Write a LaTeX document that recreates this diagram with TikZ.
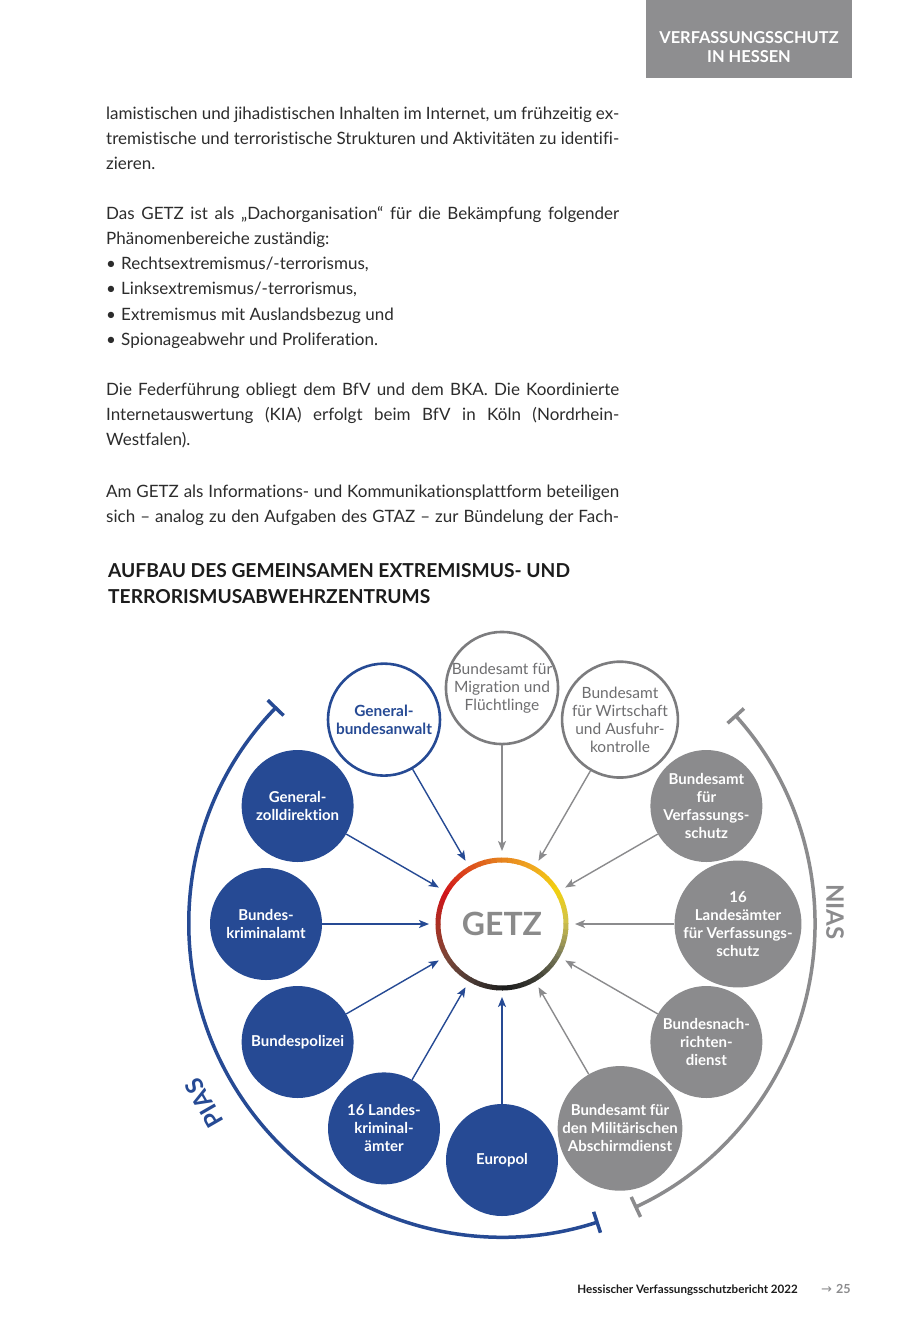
\documentclass[tikz,border=0pt]{standalone}
\usepackage{fontspec}
\setmainfont{Lato}[Ligatures=NoCommon]
\newfontfamily\dejavu{DejaVu Sans}
\usetikzlibrary{arrows.meta,calc}
\definecolor{pblue}{HTML}{264A94}
\definecolor{ngray}{HTML}{8B8B8D}
\definecolor{lgray}{HTML}{7C7C7E}
\definecolor{ltext}{HTML}{6E6E70}
\definecolor{bodytxt}{HTML}{2C2C2C}
\definecolor{headtxt}{HTML}{1C1C1C}
\definecolor{hbox}{HTML}{8E8E90}
\definecolor{getzgray}{HTML}{8A8A8A}
\definecolor{g0}{HTML}{D2C34A}
\definecolor{g30}{HTML}{F2D010}
\definecolor{g60}{HTML}{F0A820}
\definecolor{g90}{HTML}{E5801F}
\definecolor{g120}{HTML}{DC4A1C}
\definecolor{g150}{HTML}{D0141A}
\definecolor{g180}{HTML}{A83224}
\definecolor{g210}{HTML}{7A4638}
\definecolor{g240}{HTML}{4A3A34}
\definecolor{g270}{HTML}{1C1C1C}
\definecolor{g300}{HTML}{3C3C34}
\definecolor{g330}{HTML}{7E7E5A}
\tikzset{
  body/.style={anchor=base west, inner sep=0pt, font=\fontsize{17}{20}\selectfont, text=bodytxt},
  heading/.style={anchor=base west, inner sep=0pt, font=\bfseries\fontsize{19.2}{24}\selectfont, text=headtxt},
  circbase/.style={circle, minimum size=112pt, inner sep=0pt, align=center, font=\bfseries\fontsize{15}{18}\selectfont},
  bluefill/.style={circbase, fill=pblue, text=white},
  grayfill/.style={circbase, fill=ngray, text=white},
  blueopen/.style={circbase, draw=pblue, line width=2.6pt, fill=white, text=pblue, font=\bfseries\fontsize{15.4}{18}\selectfont},
  grayopen/.style={circbase, draw=lgray, line width=2.6pt, fill=white, text=ltext, font=\fontsize{15.5}{18}\selectfont},
  barrow/.style={draw=pblue, line width=1.4pt, -{Stealth[length=10pt,width=8pt,inset=2.5pt]}},
  garrow/.style={draw=ngray, line width=1.4pt, -{Stealth[length=10pt,width=8pt,inset=2.5pt]}},
  arclabel/.style={font=\bfseries\fontsize{24}{24}\selectfont, inner sep=0pt},
}
\begin{document}
\begin{tikzpicture}[x=1pt,y=1pt]
\useasboundingbox (0,0) rectangle (900,-1323);
\fill[white] (0,0) rectangle (900,-1323);

% header box
\fill[hbox] (646,0) rectangle (852,-78);
\node[align=center, text=white, font=\bfseries\fontsize{16.4}{19}\selectfont, inner sep=0pt] (hdr) at (749,-47) {VERFASSUNGSSCHUTZ\\IN HESSEN};

% body text
\node[body] (l1) at (106,-119) {\makebox[513pt][s]{lamistischen und jihadistischen Inhalten im Internet, um frühzeitig ex-}};
\node[body] (l2) at (106,-144) {\makebox[513pt][s]{tremistische und terroristische Strukturen und Aktivitäten zu identifi-}};
\node[body] (l3) at (106,-169) {zieren.};
\node[body] (l4) at (106,-219) {\makebox[513pt][s]{Das GETZ ist als „Dachorganisation“ für die Bekämpfung folgender}};
\node[body] (l5) at (106,-244) {Phänomenbereiche zuständig:};
\node[body] (l6) at (106,-269) {\makebox[15pt][l]{•}Rechtsextremismus/-terrorismus,};
\node[body] (l7) at (106,-294) {\makebox[15pt][l]{•}Linksextremismus/-terrorismus,};
\node[body] (l8) at (106,-320) {\makebox[15pt][l]{•}Extremismus mit Auslandsbezug und};
\node[body] (l9) at (106,-345) {\makebox[15pt][l]{•}Spionageabwehr und Proliferation.};
\node[body] (l10) at (106,-395) {\makebox[513pt][s]{Die Federführung obliegt dem BfV und dem BKA. Die Koordinierte}};
\node[body] (l11) at (106,-420) {\makebox[513pt][s]{Internetauswertung (KIA) erfolgt beim BfV in Köln (Nordrhein-}};
\node[body] (l12) at (106,-445) {Westfalen).};
\node[body] (l13) at (106,-497) {\makebox[513pt][s]{Am GETZ als Informations- und Kommunikationsplattform beteiligen}};
\node[body] (l14) at (106,-522) {\makebox[513pt][s]{sich – analog zu den Aufgaben des GTAZ – zur Bündelung der Fach-}};

% heading
\node[heading] (h1) at (108,-577) {AUFBAU DES GEMEINSAMEN EXTREMISMUS- UND};
\node[heading] (h2) at (108,-603) {TERRORISMUSABWEHRZENTRUMS};

% diagram
\coordinate (C) at (502,-924);

% arcs
\draw[pblue, line width=3.5pt, {Bar[width=22pt,line width=3.5pt]}-{Bar[width=22pt,line width=3.5pt]}]
  ($(C)+(136:313)$) arc[start angle=136, end angle=288, radius=313];
\draw[ngray, line width=3.5pt, {Bar[width=22pt,line width=3.5pt]}-{Bar[width=22pt,line width=3.5pt]}]
  ($(C)+(42:313)$) arc[start angle=42, end angle=-65, radius=313];
\node[arclabel, rotate=120, text=pblue] (pias) at (204,-1103) {PIAS};
\node[arclabel, rotate=-90, text=ngray] (nias) at (835,-912) {NIAS};

% GETZ
\fill[white] (C) circle[radius=62];
\foreach \a/\ca/\cb in {0/g0/g30,30/g30/g60,60/g60/g90,90/g90/g120,120/g120/g150,150/g150/g180,180/g180/g210,210/g210/g240,240/g240/g270,270/g270/g300,300/g300/g330,330/g330/g0}{
  \foreach \k in {0,...,5}{
    \pgfmathtruncatemacro\p{100-\k*100/6}
    \pgfmathsetmacro\s{\a+\k*5}
    \pgfmathsetmacro\e{\s+5.6}
    \draw[line width=5pt, color=\ca!\p!\cb] ($(C)+(\s:64)$) arc[start angle=\s, end angle=\e, radius=64];
  }
}
\node[circle, minimum size=146pt, inner sep=0pt, outer sep=0pt, text=getzgray, font=\bfseries\fontsize{32}{32}\selectfont] (getz) at (C) {GETZ};

% surrounding circles
\node[blueopen] (gba) at ($(C)+(120:236)$) {General-\\bundesanwalt};
\node[grayopen] (bamf) at ($(C)+(90:236)$) {Bundesamt für\\Migration und\\Flüchtlinge};
\node[grayopen] (bafa) at ($(C)+(60:236)$) {Bundesamt\\für Wirtschaft\\und Ausfuhr-\\kontrolle};
\node[grayfill] (bfv) at ($(C)+(30:236)$) {Bundesamt\\für\\Verfassungs-\\schutz};
\node[grayfill] (lfv) at ($(C)+(0:236)$) {16\\Landesämter\\für Verfassungs-\\schutz};
\node[grayfill] (bnd) at ($(C)+(-30:236)$) {Bundesnach-\\richten-\\dienst};
\node[grayfill] (mad) at ($(C)+(-60:236)$) {Bundesamt für\\den Militärischen\\Abschirmdienst};
\node[bluefill] (europol) at ($(C)+(-90:236)$) {Europol};
\node[bluefill] (lka) at ($(C)+(-120:236)$) {16 Landes-\\kriminal-\\ämter};
\node[bluefill] (bpol) at ($(C)+(-150:236)$) {Bundespolizei};
\node[bluefill] (bka) at ($(C)+(180:236)$) {Bundes-\\kriminalamt};
\node[bluefill] (gzd) at ($(C)+(150:236)$) {General-\\zolldirektion};

% arrows
\foreach \n in {gba,gzd,bka,bpol,lka,europol}{ \draw[barrow] (\n) -- (getz); }
\foreach \n in {bamf,bafa,bfv,lfv,bnd,mad}{ \draw[garrow] (\n) -- (getz); }

% footer
\node[anchor=base east, inner sep=0pt, font=\bfseries\fontsize{11.6}{14}\selectfont, text=headtxt] (foot) at (798,-1293) {Hessischer Verfassungsschutzbericht 2022};
\node[anchor=base west, inner sep=0pt, text=ngray, font=\fontsize{12.5}{14}\selectfont] (page) at (821,-1293) {{\dejavu\fontsize{13}{14}\selectfont →}\hspace{4pt}\textbf{25}};
\end{tikzpicture}
\end{document}
